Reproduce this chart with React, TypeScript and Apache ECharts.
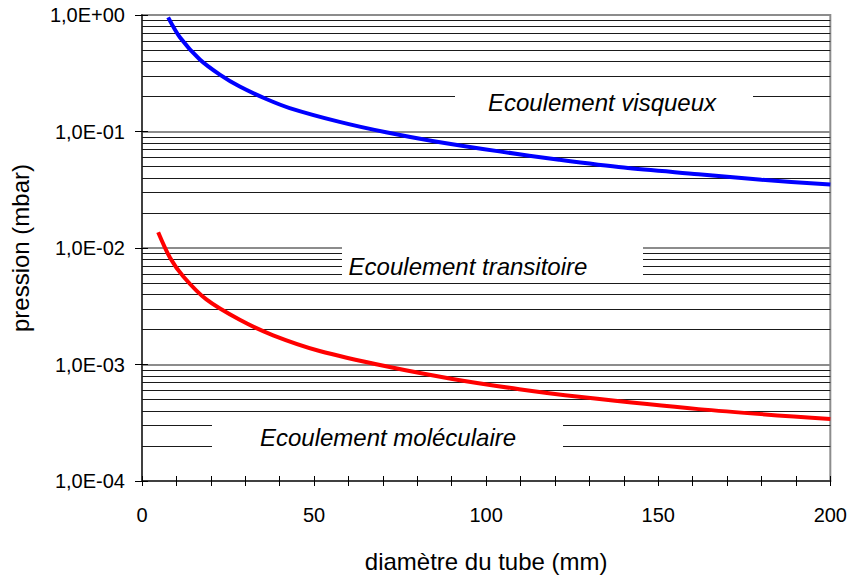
import React, { useEffect, useRef } from "react";
import * as echarts from "echarts";

// Curves (diameter in mm, pressure in mbar)
const blueDiameter = [7.6, 11, 16.8, 22.6, 28.4, 36.1, 42.9, 57.4, 70.9, 84.4, 103.8, 121.2, 140, 161.7, 180, 200];
const bluePressure = [0.955, 0.645, 0.415, 0.308, 0.243, 0.19, 0.159, 0.121, 0.0985, 0.083, 0.0675, 0.0573, 0.049, 0.043, 0.0385, 0.035];
const redDiameter = [4.7, 8.1, 12, 18.7, 28.4, 38.1, 51.6, 70.9, 90.2, 109.6, 127, 161.7, 200];
const redPressure = [0.01366, 0.0083, 0.0057, 0.00362, 0.00242, 0.00178, 0.001306, 0.000965, 0.000752, 0.000614, 0.000528, 0.000414, 0.00034];

// Axis / grid definitions
const xLabelStep = 50;
const xTickStep = 10;
const decadeValues = [1e-4, 1e-3, 1e-2, 1e-1];
const minorMultipliers = [2, 3, 4, 5, 6, 7, 8, 9];
const xAxisTitle = "diamètre du tube (mm)";
const yAxisTitle = "pression (mbar)";
const regionLabels = ["Ecoulement visqueux", "Ecoulement transitoire", "Ecoulement moléculaire"];

const FONT = "'Liberation Sans', Arial, Helvetica, sans-serif";

function fmtSci(v: number): string {
  const e = Math.round(Math.log10(v));
  const s = e >= 0 ? "+" : "-";
  const a = Math.abs(e);
  return "1,0E" + s + (a < 10 ? "0" + a : String(a));
}

export default function App() {
  const ref = useRef<HTMLDivElement>(null);
  useEffect(() => {
    if (!ref.current) return;
    const chart = echarts.init(ref.current, undefined, { renderer: "svg" });
    const minorGrid = decadeValues.flatMap((d) => minorMultipliers.map((m) => m * d));
    const blueData = blueDiameter.map((x, i) => [x, bluePressure[i]]);
    const redData = redDiameter.map((x, i) => [x, redPressure[i]]);

    const boxes = [
      { rect: [455, 79, 298, 48], text: [602, 102] },
      { rect: [342, 244, 301, 36], text: [468, 266] },
      { rect: [212, 417, 351, 52], text: [388, 437] },
    ];

    const graphic: any[] = [];
    boxes.forEach((b, i) => {
      graphic.push({
        type: "rect",
        z: 50,
        silent: true,
        shape: { x: b.rect[0], y: b.rect[1], width: b.rect[2], height: b.rect[3] },
        style: { fill: "#ffffff" },
      });
      graphic.push({
        type: "text",
        z: 51,
        silent: true,
        x: b.text[0],
        y: b.text[1],
        style: {
          text: regionLabels[i],
          fill: "#000",
          font: "italic 24px " + FONT,
          align: "center",
          verticalAlign: "middle",
        },
      });
    });

    chart.setOption({
      animation: false,
      backgroundColor: "#ffffff",
      textStyle: { fontFamily: FONT },
      grid: {
        left: 142,
        right: 18,
        top: 15,
        bottom: 94,
        show: true,
        borderColor: "#8c8c8c",
        borderWidth: 2,
        backgroundColor: "transparent",
      },
      xAxis: [
        {
          type: "value",
          min: 0,
          max: 200,
          interval: xTickStep,
          name: xAxisTitle,
          nameLocation: "middle",
          nameGap: 68,
          nameTextStyle: { fontSize: 24, color: "#000", fontFamily: FONT },
          axisLine: { show: true, onZero: false, lineStyle: { color: "#404040", width: 2 } },
          axisTick: { show: true, length: 5, lineStyle: { color: "#000", width: 1 } },
          axisLabel: {
            margin: 24,
            fontSize: 20,
            color: "#000",
            fontFamily: FONT,
            formatter: (v: number) => (v % xLabelStep === 0 ? String(v) : ""),
          },
          splitLine: { show: false },
        },
        {
          type: "value",
          min: 0,
          max: 200,
          interval: xTickStep,
          position: "bottom",
          axisLine: { show: false },
          axisTick: { show: true, inside: true, length: 5, lineStyle: { color: "#000", width: 1 } },
          axisLabel: { show: false },
          splitLine: { show: false },
        },
      ],
      yAxis: [
        {
          type: "log",
          logBase: 10,
          min: 1e-4,
          max: 1,
          splitNumber: 4,
          name: yAxisTitle,
          nameLocation: "middle",
          nameGap: 110,
          nameTextStyle: { fontSize: 24, color: "#000", fontFamily: FONT },
          axisLine: { show: true, onZero: false, lineStyle: { color: "#404040", width: 2 } },
          axisTick: { show: true, length: 7, lineStyle: { color: "#000", width: 1 } },
          axisLabel: { margin: 17, fontSize: 20, color: "#000", fontFamily: FONT, formatter: fmtSci },
          splitLine: { show: true, lineStyle: { color: "#8c8c8c", width: 2 } },
        },
        {
          type: "log",
          logBase: 10,
          min: 1e-4,
          max: 1,
          splitNumber: 4,
          position: "left",
          axisLine: { show: false },
          axisTick: { show: true, inside: true, length: 6, lineStyle: { color: "#000", width: 1 } },
          axisLabel: { show: false },
          splitLine: { show: false },
        },
      ],
      series: [
        {
          type: "line",
          name: "grid",
          data: [],
          z: 1,
          silent: true,
          markLine: {
            silent: true,
            precision: 10,
            symbol: ["none", "none"],
            label: { show: false },
            lineStyle: { color: "#1a1a1a", width: 1, type: "solid" },
            emphasis: { disabled: true },
            data: minorGrid.map((v) => ({ yAxis: v })),
          },
        },
        {
          type: "line",
          name: "visqueux",
          data: blueData,
          smooth: 0.3,
          showSymbol: false,
          z: 10,
          lineStyle: { color: "#0000ff", width: 4 },
        },
        {
          type: "line",
          name: "moleculaire",
          data: redData,
          smooth: 0.3,
          showSymbol: false,
          z: 10,
          lineStyle: { color: "#ff0000", width: 4 },
        },
      ],
      graphic,
    });
    return () => chart.dispose();
  }, []);
  return <div ref={ref} style={{ position: "fixed", left: 0, top: 0, width: 850, height: 578 }} />;
}
